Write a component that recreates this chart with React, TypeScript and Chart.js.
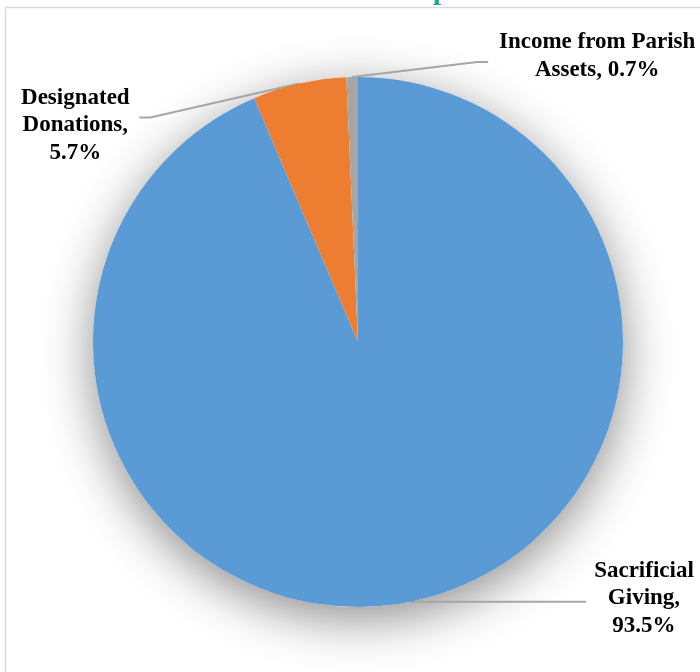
import React, { useEffect, useRef } from "react";
import { Chart, registerables } from "chart.js";

Chart.register(...registerables);

const categories = ["Sacrificial Giving", "Designated Donations", "Income from Parish Assets"];
const shares = [93.5, 5.7, 0.7];
const labelLines = [
  ["Sacrificial", "Giving,", "93.5%"],
  ["Designated", "Donations,", "5.7%"],
  ["Income from Parish", "Assets, 0.7%"],
];
const sliceColors = ["#5b9bd5", "#ed7d31", "#a5a5a5"];

// leader / label offsets relative to the slice's outer mid point
const leaderLayout = [
  { elbow: [0, 0], end: [175, 0], text: [233, -31] },
  { elbow: [-149, 34], end: [-160, 34], text: [-224, 14] },
  { elbow: [125, -15], end: [136, -15], text: [245, -35] },
];

const FONT = "bold 23px 'Liberation Serif', 'Times New Roman', serif";
const LINE_H = 27.5;

const decorPlugin = {
  id: "decor",
  beforeDraw(chart: any) {
    const ctx = chart.ctx;
    ctx.save();
    ctx.fillStyle = "#ffffff";
    ctx.fillRect(0, 0, chart.width, chart.height);
    ctx.strokeStyle = "#d9d9d9";
    ctx.lineWidth = 1.5;
    ctx.strokeRect(5.5, 7.5, 900, 900);
    // clipped title (only descender visible)
    ctx.fillStyle = "#26a68f";
    ctx.font = "bold 30px 'Liberation Serif', serif";
    ctx.textAlign = "center";
    ctx.textBaseline = "alphabetic";
    ctx.fillText("p", 441, -1);
    ctx.restore();
  },
  beforeDatasetsDraw(chart: any) {
    const ctx = chart.ctx;
    const meta = chart.getDatasetMeta(0);
    const arc0 = meta.data[0];
    if (!arc0) return;
    const { x, y, outerRadius } = arc0.getProps(["x", "y", "outerRadius"], true);
    ctx.save();
    ctx.shadowColor = "rgba(0,0,0,0.45)";
    ctx.shadowBlur = 50;
    ctx.shadowOffsetY = 12;
    ctx.fillStyle = "#ffffff";
    ctx.beginPath();
    ctx.arc(x, y, outerRadius, 0, Math.PI * 2);
    ctx.fill();
    ctx.restore();

    ctx.save();
    ctx.strokeStyle = "#a6a6a6";
    ctx.lineWidth = 2;
    meta.data.forEach((arc: any, i: number) => {
      const p = arc.getProps(["x", "y", "startAngle", "endAngle", "outerRadius"], true);
      const mid = (p.startAngle + p.endAngle) / 2;
      const sx = p.x + Math.cos(mid) * p.outerRadius;
      const sy = p.y + Math.sin(mid) * p.outerRadius;
      const L = leaderLayout[i];
      ctx.beginPath();
      ctx.moveTo(sx, sy);
      ctx.lineTo(sx + L.elbow[0], sy + L.elbow[1]);
      ctx.lineTo(sx + L.end[0], sy + L.end[1]);
      ctx.stroke();
    });
    ctx.restore();
  },
  afterDatasetsDraw(chart: any) {
    const ctx = chart.ctx;
    const meta = chart.getDatasetMeta(0);
    ctx.save();
    ctx.fillStyle = "#000000";
    ctx.font = FONT;
    ctx.textAlign = "center";
    ctx.textBaseline = "middle";
    meta.data.forEach((arc: any, i: number) => {
      const p = arc.getProps(["x", "y", "startAngle", "endAngle", "outerRadius"], true);
      const mid = (p.startAngle + p.endAngle) / 2;
      const sx = p.x + Math.cos(mid) * p.outerRadius;
      const sy = p.y + Math.sin(mid) * p.outerRadius;
      const L = leaderLayout[i];
      labelLines[i].forEach((t, k) => {
        ctx.fillText(t, sx + L.text[0], sy + L.text[1] + k * LINE_H);
      });
    });
    ctx.restore();
  },
};

export default function App() {
  const ref = useRef<HTMLCanvasElement>(null);
  useEffect(() => {
    if (!ref.current) return;
    const chart = new Chart(ref.current, {
      type: "pie",
      data: {
        labels: categories,
        datasets: [
          {
            data: shares,
            backgroundColor: sliceColors,
            borderWidth: 0,
          },
        ],
      },
      options: {
        responsive: true,
        maintainAspectRatio: false,
        animation: false,
        layout: { padding: { left: 93, right: 77, top: 77, bottom: 65 } },
        plugins: {
          legend: { display: false },
          tooltip: { enabled: false },
          title: { display: false },
        },
      },
      plugins: [decorPlugin],
    });
    return () => chart.destroy();
  }, []);
  return (
    <div style={{ position: "fixed", left: 0, top: 0, width: 700, height: 672, background: "#fff" }}>
      <canvas ref={ref} />
    </div>
  );
}
